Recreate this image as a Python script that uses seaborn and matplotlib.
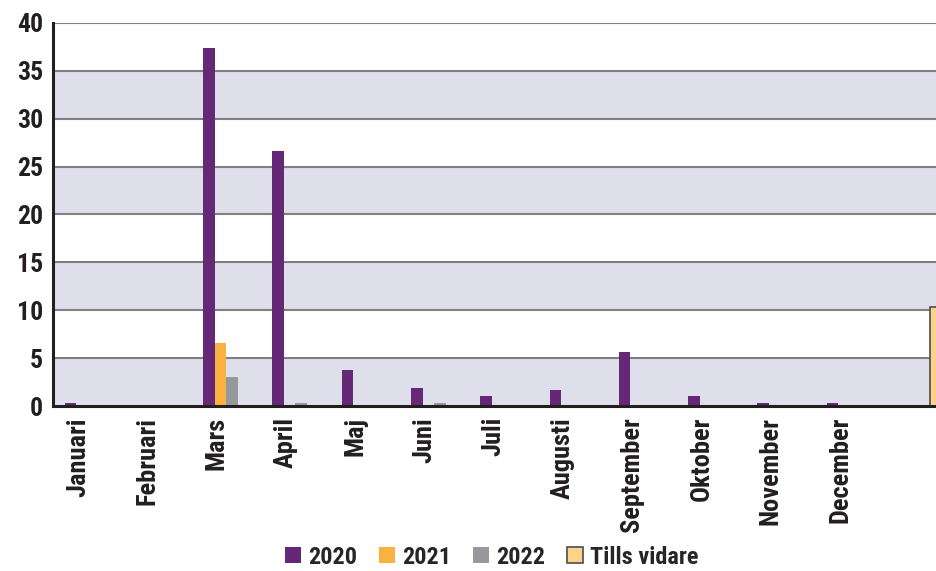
import numpy as np
import pandas as pd
import matplotlib
matplotlib.use("Agg")
import matplotlib.pyplot as plt
import matplotlib.patches as mpatches
import seaborn as sns

# Data
months = ["Januari", "Februari", "Mars", "April", "Maj", "Juni", "Juli",
          "Augusti", "September", "Oktober", "November", "December", " "]
series = ["2020", "2021", "2022", "Tills vidare"]
v2020 = [0.3, 0, 37.4, 26.6, 3.8, 1.9, 1.0, 1.7, 5.6, 1.0, 0.3, 0.3, 0]
v2021 = [0, 0, 6.6, 0, 0, 0, 0, 0, 0, 0, 0, 0, 0]
v2022 = [0, 0, 3.0, 0.3, 0, 0.3, 0, 0, 0, 0, 0, 0, 0]
vtills = [0, 0, 0, 0, 0, 0, 0, 0, 0, 0, 0, 0, 10.3]
colors = ["#652877", "#f9b23f", "#97989b", "#fdd38a"]

rows = []
for name, vals in zip(series, [v2020, v2021, v2022, vtills]):
    for m, v in zip(months, vals):
        rows.append({"month": m, "series": name, "value": v})
df = pd.DataFrame(rows)

sns.set_style("white")
plt.rcParams["font.family"] = ["Roboto Condensed", "DejaVu Sans"]

fig = plt.figure(figsize=(9.37, 5.71), dpi=100)
ax = fig.add_axes([53 / 937, 1 - 406 / 571, 1 - 53 / 937, (406 - 23) / 571])

# alternating background bands (lavender on 0-5, 10-15, ...) and grid lines
for lo in [0, 10, 20, 30]:
    ax.axhspan(lo, lo + 5, facecolor="#dedfea", zorder=0, lw=0)
for y in range(5, 45, 5):
    ax.axhline(y, color="#808080", lw=1.5, zorder=1)

sns.barplot(data=df, x="month", y="value", hue="series", order=months,
            hue_order=series, palette=colors, width=0.664, dodge=True,
            saturation=1, errorbar=None, linewidth=0, ax=ax, zorder=3)

for bar in ax.containers[3]:
    if bar.get_height() > 0:
        bar.set_edgecolor("#4d4d4d")
        bar.set_linewidth(1.2)

ax.set_xlim(-0.5, 12.26)
ax.set_ylim(0, 40)
ax.set_yticks(range(0, 45, 5))
ax.set_yticklabels([str(t) for t in range(0, 45, 5)], fontsize=18.5,
                   fontweight="bold", color="#231f20")
ax.set_xticks(np.arange(12) - 0.14)
ax.set_xticklabels(months[:12], rotation=90, fontsize=19, fontweight="bold",
                   color="#231f20", va="top")
ax.tick_params(axis="x", length=0, pad=8)
ax.tick_params(axis="y", length=0, pad=7)
ax.set_xlabel("")
ax.set_ylabel("")

for s in ["top", "right"]:
    ax.spines[s].set_visible(False)
for s in ["left", "bottom"]:
    ax.spines[s].set_color("#231f20")
    ax.spines[s].set_linewidth(2.2)
    ax.spines[s].set_zorder(5)

ax.legend_.remove()
handles = [mpatches.Patch(facecolor=c, edgecolor=("#4d4d4d" if i == 3 else c),
                          linewidth=(1.2 if i == 3 else 0))
           for i, c in enumerate(colors)]
fig.legend(handles, series, loc="center", bbox_to_anchor=(0.525, 14 / 571),
           ncol=4, frameon=False, handlelength=0.65, handleheight=0.65,
           handletextpad=0.3, columnspacing=0.9,
           prop={"size": 17.5, "weight": "bold"})

fig.savefig("out.png", dpi=100)
